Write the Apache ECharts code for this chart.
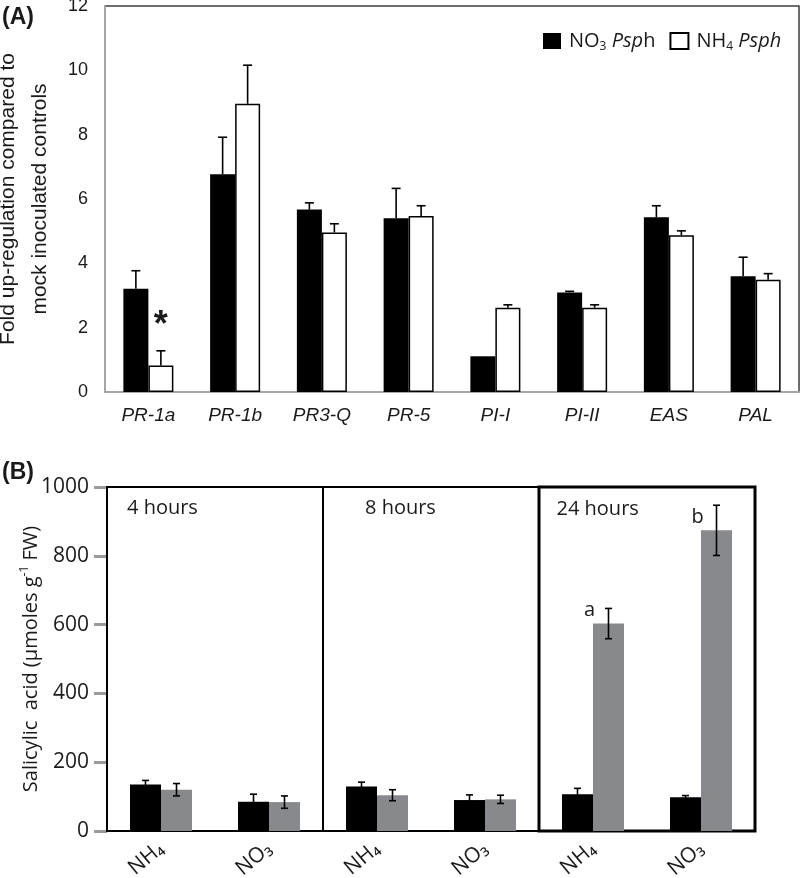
<!DOCTYPE html>
<html><head><meta charset="utf-8">
<script src="https://cdn.jsdelivr.net/npm/echarts@6/dist/echarts.min.js"></script>
<style>html,body{margin:0;padding:0;background:#fff}#c{width:800px;height:878px}</style>
</head><body><div id="c"></div>
<script>
// ---------- Panel A data ----------
const genesA = ['PR-1a','PR-1b','PR3-Q','PR-5','PI-I','PI-II','EAS','PAL'];
const no3A    = [3.21, 6.77, 5.67, 5.40, 1.11, 3.09, 5.43, 3.60];
const no3ErrA = [0.56, 1.15, 0.21, 0.93, 0.00, 0.04, 0.36, 0.59];
const nh4A    = [0.82, 8.96, 4.96, 5.47, 2.62, 2.62, 4.87, 3.49];
const nh4ErrA = [0.46, 1.20, 0.27, 0.32, 0.09, 0.09, 0.14, 0.19];
const annotA  = ['*', '', '', '', '', '', '', ''];
const yMaxA = 12, yStepA = 2;

// ---------- Panel B data ----------
const catsB     = ['NH₄','NO₃','NH₄','NO₃','NH₄','NO₃'];
const timesB    = ['4 hours','8 hours','24 hours'];
const blackB    = [135, 85, 129, 90, 107, 98];
const blackErrB = [12, 22, 13, 15, 17, 5];
const grayB     = [120, 84, 104, 92, 603, 874];
const grayErrB  = [18, 18, 16, 12, 44, 73];
const lettersB  = ['', '', '', '', 'a', 'b'];
const yMaxB = 1000, yStepB = 200;

const FA = 'Liberation Sans, Arial, sans-serif';
const FB = 'Open Sans, sans-serif';
const TXT = '#1a1a1a';

function errBar(offset, cap, both){
  return function(params, api){
    const i = api.value(0), v = api.value(1), e = api.value(2);
    if (!(e > 0)) return {type:'group', children:[]};
    const p1 = api.coord([i, v + e]);
    const p0 = api.coord([i, both ? v - e : v]);
    const x = p1[0] + offset;
    const st = {stroke:'#000', lineWidth:1.6};
    const ch = [
      {type:'line', shape:{x1:x, y1:p0[1], x2:x, y2:p1[1]}, style:st},
      {type:'line', shape:{x1:x-cap, y1:p1[1], x2:x+cap, y2:p1[1]}, style:st}
    ];
    if (both) ch.push({type:'line', shape:{x1:x-cap, y1:p0[1], x2:x+cap, y2:p0[1]}, style:st});
    return {type:'group', children:ch};
  };
}

const chart = echarts.init(document.getElementById('c'));
chart.setOption({
  animation:false,
  backgroundColor:'#fff',
  title:[
    {text:'(A)', left:2, top:6, padding:0, textStyle:{fontFamily:FA, fontSize:23, fontWeight:'bold', color:TXT}},
    {text:'(B)', left:2, top:461, padding:0, textStyle:{fontFamily:FA, fontSize:23, fontWeight:'bold', color:TXT}}
  ],
  legend:{
    data:['NO3 Psph','NH4 Psph'], left:538, top:26, itemWidth:18, itemHeight:16, itemGap:14, icon:'rect',
    formatter: n => n === 'NO3 Psph' ? '{n|NO}{s|3}{n| }{i|Psp}{n|h}' : '{n|NH}{s|4}{n| }{i|Psph}',
    textStyle:{fontFamily:FB, fontSize:20, color:TXT, padding:[0,0,0,3],
      rich:{
        n:{fontFamily:FB, fontSize:20, color:TXT, lineHeight:24},
        i:{fontFamily:FB, fontSize:20, color:TXT, fontStyle:'italic', lineHeight:24},
        s:{fontFamily:FB, fontSize:12, color:TXT, lineHeight:12, verticalAlign:'bottom'}
      }}
  },
  grid:[
    {left:105, right:1, top:6, bottom:486, show:true, borderColor:'#3c3c3c', borderWidth:1.5, outerBoundsMode:'none', containLabel:false},
    {left:107, right:45, top:487, bottom:47, outerBoundsMode:'none', containLabel:false}
  ],
  xAxis:[
    {type:'category', gridIndex:0, data:genesA,
     axisLine:{lineStyle:{color:'#a6a6a6', width:2}}, axisTick:{show:false},
     axisLabel:{fontFamily:FA, fontStyle:'italic', fontSize:19, color:TXT, margin:14}},
    {type:'category', gridIndex:1, data:catsB,
     axisLine:{show:false}, axisTick:{show:false},
     axisLabel:{rotate:40, margin:15, interval:0, hideOverlap:false,
       fontFamily:'Open Sans, DejaVu Sans, sans-serif', fontSize:21, color:TXT}},
    {type:'value', gridIndex:1, min:0, max:catsB.length, show:false}
  ],
  yAxis:[
    {type:'value', gridIndex:0, min:0, max:yMaxA, interval:yStepA,
     axisLine:{show:true, lineStyle:{color:'#a6a6a6', width:2}}, axisTick:{show:false}, splitLine:{show:false},
     axisLabel:{fontFamily:FA, fontSize:18, color:TXT, margin:17},
     name:'Fold up-regulation compared to\nmock inoculated controls', nameLocation:'middle', nameGap:49,
     nameMoveOverlap:false,
     nameTextStyle:{fontFamily:FA, fontSize:21, color:TXT, lineHeight:32}},
    {type:'value', gridIndex:1, min:0, max:yMaxB, interval:yStepB,
     axisLine:{show:false}, axisTick:{show:true, length:13, lineStyle:{color:'#9a9a9a', width:3}}, splitLine:{show:false},
     axisLabel:{fontFamily:FB, fontSize:21, color:TXT, margin:18, formatter: v => String(v)},
     name:'{n|Salicylic  acid (µmoles g}{p|-1}{n| FW)}', nameLocation:'middle', nameGap:64,
     nameMoveOverlap:false,
     nameTextStyle:{fontFamily:FB, fontSize:20, color:TXT,
       rich:{
         n:{fontFamily:FB, fontSize:20, color:TXT, lineHeight:24},
         p:{fontFamily:FB, fontSize:12, color:TXT, lineHeight:12, verticalAlign:'top'}
       }}}
  ],
  series:[
    {name:'NO3 Psph', type:'bar', xAxisIndex:0, yAxisIndex:0, data:no3A, barWidth:25, barGap:'0%',
     itemStyle:{color:'#000'}},
    {name:'NH4 Psph', type:'bar', xAxisIndex:0, yAxisIndex:0, barWidth:25, barGap:'0%',
     itemStyle:{color:'#fff', borderColor:'#000', borderWidth:1.5},
     data: nh4A.map((v,i) => annotA[i] ? {value:v, label:{show:true, formatter:annotA[i], position:'top', distance:22,
        fontFamily:FA, fontSize:36, fontWeight:'bold', color:TXT}} : v)},
    {type:'custom', xAxisIndex:0, yAxisIndex:0, z:10, renderItem:errBar(-12.5, 4.5, false),
     encode:{x:0, y:1}, data: genesA.map((g,i) => [i, no3A[i], no3ErrA[i]])},
    {type:'custom', xAxisIndex:0, yAxisIndex:0, z:10, renderItem:errBar(12.5, 4.5, false),
     encode:{x:0, y:1}, data: genesA.map((g,i) => [i, nh4A[i], nh4ErrA[i]])},

    {name:'Mock', type:'bar', xAxisIndex:1, yAxisIndex:1, data:blackB, barWidth:31, barGap:'0%',
     itemStyle:{color:'#000'}},
    {name:'Psph', type:'bar', xAxisIndex:1, yAxisIndex:1, barWidth:31, barGap:'0%',
     itemStyle:{color:'#88898d'},
     data: grayB.map((v,i) => lettersB[i] ? {value:v, label:{show:true, formatter:lettersB[i], position:'top', distance:3,
        offset:[-19,0], fontFamily:FB, fontSize:20, color:TXT}} : v)},
    {type:'custom', xAxisIndex:1, yAxisIndex:1, z:10, renderItem:errBar(-15.5, 3.5, true),
     encode:{x:0, y:1}, data: catsB.map((g,i) => [i, blackB[i], blackErrB[i]])},
    {type:'custom', xAxisIndex:1, yAxisIndex:1, z:10, renderItem:errBar(15.5, 3.5, true),
     encode:{x:0, y:1}, data: catsB.map((g,i) => [i, grayB[i], grayErrB[i]])},

    {type:'line', xAxisIndex:2, yAxisIndex:1, data:[], silent:true,
     markArea:{silent:true,
       label:{show:true, position:'insideTopLeft', fontFamily:FB, fontSize:20, color:TXT},
       itemStyle:{color:'rgba(0,0,0,0)', borderColor:'#000', borderWidth:2},
       data: timesB.map((t,k) => [
         {name:t, coord:[2*k, 0], label:{offset:[[16,38,14][k], [7,7,9][k]]},
          itemStyle:{borderWidth:[2,2,3][k]}},
         {coord:[2*k+2, yMaxB]}
       ])}}
  ]
});
</script></body></html>
